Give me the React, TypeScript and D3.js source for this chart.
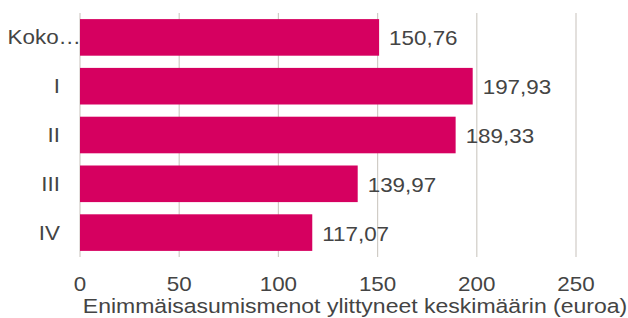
import * as d3 from "d3";

const categories = ["Koko…", "I", "II", "III", "IV"];
const values = [150.76, 197.93, 189.33, 139.97, 117.07];
const ticks = [0, 50, 100, 150, 200, 250];
const axisTitle = "Enimmäisasumismenot ylittyneet keskimäärin (euroa)";

const font = "'Liberation Sans', Arial, sans-serif";
const stretch = 1.12;

function Label({
  x,
  y,
  anchor = "start",
  size = 20,
  sx = stretch,
  children
}: {
  x: number;
  y: number;
  anchor?: "start" | "middle" | "end";
  size?: number;
  sx?: number;
  children: React.ReactNode;
}) {
  return (
    <text
      fill="#444"
      fontSize={size}
      textAnchor={anchor}
      transform={`translate(${x},${y}) scale(${sx},1)`}
    >
      {children}
    </text>
  );
}

export default function App() {
  const width = 628;
  const height = 318;

  const x = d3.scaleLinear().domain([0, 250]).range([80, 576]);
  const y = d3
    .scaleBand<string>()
    .domain(categories)
    .range([13, 257])
    .paddingInner(0.25)
    .paddingOuter(0.125);

  const fmt = (v: number) => v.toFixed(2).replace(".", ",");

  return (
    <svg
      width={width}
      height={height}
      viewBox={`0 0 ${width} ${height}`}
      style={{ position: "absolute", left: 0, top: 0, background: "#fff" }}
      fontFamily={font}
    >
      {ticks.map((t) => (
        <line key={t} stroke="#d0ccc6" strokeWidth="1.2" x1={x(t)} x2={x(t)} y1={13} y2={257} />
      ))}
      {categories.map((c, i) => {
        const by = y(c) ?? 0;
        const bh = y.bandwidth();
        const cy = by + bh / 2;
        return (
          <g key={c}>
            <rect fill="#d60060" x={x(0)} y={by} width={x(values[i]) - x(0)} height={bh} />
            <Label x={x(values[i]) + 10} y={cy + 8}>
              {fmt(values[i])}
            </Label>
            <Label anchor="end" x={i === 0 ? 81 : 60} y={cy + 7}>
              {c}
            </Label>
          </g>
        );
      })}
      {ticks.map((t) => (
        <Label key={t} anchor="middle" x={x(t)} y={291}>
          {t}
        </Label>
      ))}
      <Label anchor="middle" size={19.5} sx={1.18} x={355} y={313}>
        {axisTitle}
      </Label>
    </svg>
  );
}
